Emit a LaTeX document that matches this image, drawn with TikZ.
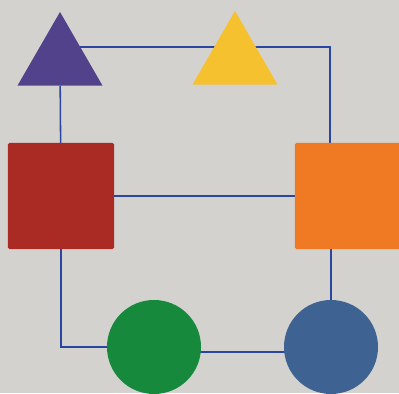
\documentclass[tikz,border=0pt]{standalone}
\usepackage{xcolor}
\usepackage{tikz}
\usetikzlibrary{shapes.geometric,backgrounds}
\definecolor{paper}{HTML}{D3D2CF}
\definecolor{wire}{HTML}{2B46A0}
\definecolor{violet}{HTML}{52428C}
\definecolor{sun}{HTML}{F5C12F}
\definecolor{brick}{HTML}{A92B24}
\definecolor{tangerine}{HTML}{F07A24}
\definecolor{leaf}{HTML}{16893C}
\definecolor{steel}{HTML}{3E6393}

\begin{document}
\begin{tikzpicture}[
  x=0.025cm, y=-0.025cm,
  tri/.style={regular polygon, regular polygon sides=3, minimum size=2.45cm, inner sep=0pt, outer sep=0pt, draw=none},
  sq/.style={rectangle, minimum size=2.65cm, rounded corners=1pt, inner sep=0pt, outer sep=0pt, draw=none},
  disc/.style={circle, minimum size=2.35cm, inner sep=0pt, outer sep=0pt, draw=none},
  wirestyle/.style={draw=wire, line width=1.1pt}
]
  \useasboundingbox (0,0) rectangle (399,393);

  \node[tri, fill=violet] (purple) at (60,61) {};
  \node[tri, fill=sun] (yellow) at (235,60) {};
  \node[sq, fill=brick] (red) at (61,196) {};
  \node[sq, fill=tangerine] (orange) at (348,196) {};
  \node[disc, fill=leaf] (green) at (154,347) {};
  \node[disc, fill=steel] (blue) at (331,347) {};
  \coordinate (corner) at (330,47);

  \begin{scope}[on background layer]
    \fill[paper] (0,0) rectangle (399,393);
    \draw[wirestyle] (purple.center |- corner) -- (corner) -- (corner |- orange.north);
    \draw[wirestyle] (purple) -- (red);
    \draw[wirestyle] (red) -- (orange);
    \draw[wirestyle] (red) |- (green);
    \draw[wirestyle] ([yshift=-0.125cm]green.center) -- ([yshift=-0.125cm]blue.center);
    \draw[wirestyle] (blue.center) -- (blue.center |- orange.south);
  \end{scope}
\end{tikzpicture}
\end{document}
